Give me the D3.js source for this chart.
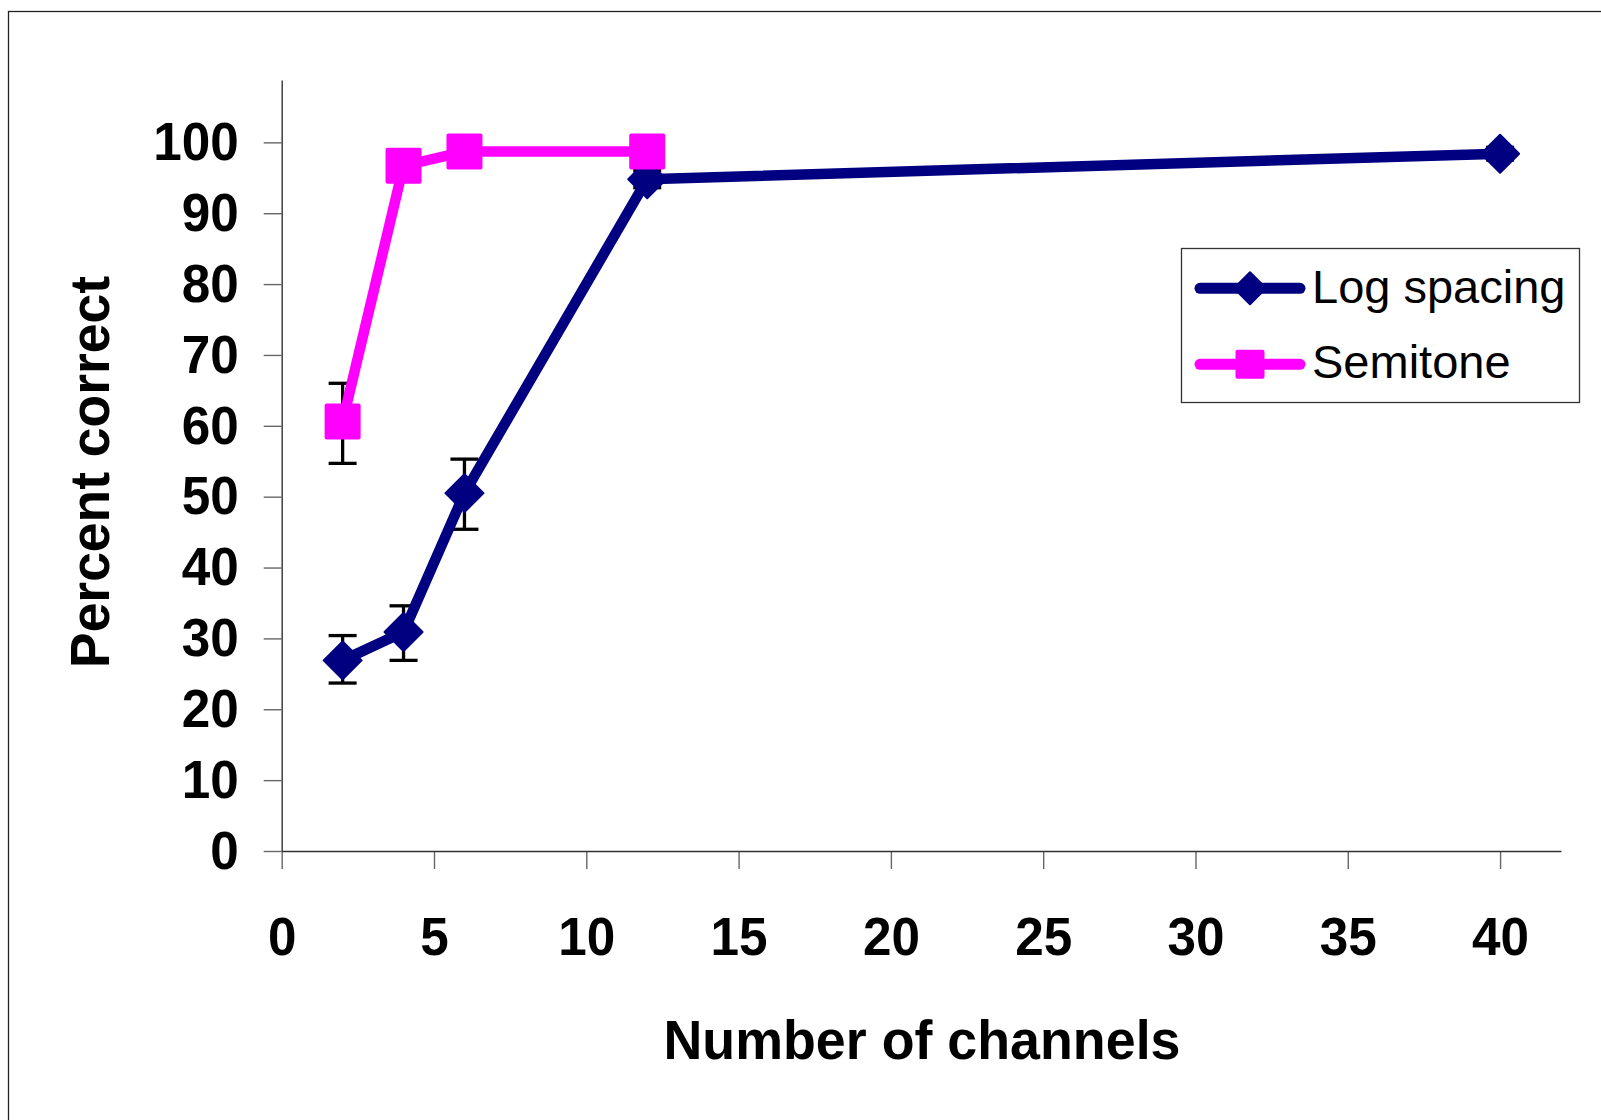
<!DOCTYPE html>
<html><head><meta charset="utf-8">
<script src="https://cdn.jsdelivr.net/npm/d3@7"></script>
<style>html,body{margin:0;padding:0;background:#fff;}svg{display:block;}</style>
</head><body>
<script>
// ---- data ----
const logChannels = [2, 4, 6, 12, 40];
const logValues   = [26.9, 30.9, 50.5, 94.8, 98.4];
const logErrHigh  = [30.4, 34.6, 55.3, 96.0, 99.3];
const logErrLow   = [23.7, 26.9, 45.4, 93.6, 97.5];

const semiChannels = [2, 4, 6, 12];
const semiValues   = [60.6, 96.7, 98.7, 98.7];
const semiErrHigh  = [66.0, 97.9, 99.7, 99.7];
const semiErrLow   = [54.7, 95.5, 97.7, 97.7];

const xTicks = [0, 5, 10, 15, 20, 25, 30, 35, 40];
const yTicks = [0, 10, 20, 30, 40, 50, 60, 70, 80, 90, 100];
const seriesNames = ["Log spacing", "Semitone"];
const xTitle = "Number of channels";
const yTitle = "Percent correct";

// ---- layout ----
const W = 1601, H = 1120;
const NAVY = "#000080", MAG = "#FF00FF";
const svg = d3.select("body").append("svg").attr("width", W).attr("height", H);
svg.append("rect").attr("width", W).attr("height", H).attr("fill", "#fff");
// outer frame
svg.append("rect").attr("x", 8.5).attr("y", 11.5).attr("width", 1700).attr("height", 1300)
  .attr("fill", "none").attr("stroke", "#222").attr("stroke-width", 1.3);

const x = d3.scaleLinear().domain([0, 42]).range([281.7, 1561]);
const y = d3.scaleLinear().domain([0, 108.8]).range([851, 80]);

const font = "'Liberation Sans', Arial, sans-serif";

// axes
const xAxis = svg.append("g").attr("transform", `translate(0,${y(0)})`)
  .call(d3.axisBottom(x).tickValues(xTicks).tickSizeInner(18).tickSizeOuter(0).tickPadding(48).tickFormat(d3.format("d")));
const yAxis = svg.append("g").attr("transform", `translate(${x(0)},0)`)
  .call(d3.axisLeft(y).tickValues(yTicks).tickSizeInner(18).tickSizeOuter(0).tickPadding(25).tickFormat(d3.format("d")));
[xAxis, yAxis].forEach(g => {
  g.select(".domain").attr("stroke", "#333").attr("stroke-width", 1.4);
  g.selectAll(".tick line").attr("stroke", "#666").attr("stroke-width", 1.4);
  g.selectAll(".tick text").attr("fill", "#000").attr("font-family", font)
    .attr("font-weight", "bold").attr("font-size", 54)
    .attr("textLength", d => String(d).length * 28.5).attr("lengthAdjust", "spacingAndGlyphs");
});
xAxis.select(".domain").raise();

// titles
svg.append("text").attr("x", 922).attr("y", 1059).attr("text-anchor", "middle")
  .attr("font-family", font).attr("font-weight", "bold").attr("font-size", 56)
  .attr("textLength", 517).attr("lengthAdjust", "spacingAndGlyphs").text(xTitle);
svg.append("text").attr("transform", "translate(108.5,472) rotate(-90)").attr("text-anchor", "middle")
  .attr("font-family", font).attr("font-weight", "bold").attr("font-size", 56)
  .attr("textLength", 392).attr("lengthAdjust", "spacingAndGlyphs").text(yTitle);

// series
const logData = logChannels.map((c, i) => ({c, v: logValues[i], hi: logErrHigh[i], lo: logErrLow[i]}));
const semiData = semiChannels.map((c, i) => ({c, v: semiValues[i], hi: semiErrHigh[i], lo: semiErrLow[i]}));

function errorBars(data) {
  const g = svg.append("g").attr("stroke", "#000").attr("stroke-width", 3.3).attr("fill", "none");
  data.forEach(d => {
    g.append("line").attr("x1", x(d.c)).attr("x2", x(d.c)).attr("y1", y(d.hi)).attr("y2", y(d.lo));
    g.append("line").attr("x1", x(d.c) - 14).attr("x2", x(d.c) + 14).attr("y1", y(d.hi)).attr("y2", y(d.hi));
    g.append("line").attr("x1", x(d.c) - 14).attr("x2", x(d.c) + 14).attr("y1", y(d.lo)).attr("y2", y(d.lo));
  });
}
const line = d3.line().x(d => x(d.c)).y(d => y(d.v));
function diamond(g, cx, cy, r, color) {
  g.append("path").attr("d", `M${cx},${cy - r}L${cx + r},${cy}L${cx},${cy + r}L${cx - r},${cy}Z`)
    .attr("fill", color).attr("stroke", color).attr("stroke-width", 2).attr("stroke-linejoin", "round");
}
function square(g, cx, cy, s, color) {
  g.append("rect").attr("x", cx - s / 2).attr("y", cy - s / 2).attr("width", s).attr("height", s)
    .attr("rx", 2).attr("fill", color);
}

errorBars(logData);
errorBars(semiData);

svg.append("path").datum(logData).attr("d", line).attr("fill", "none")
  .attr("stroke", NAVY).attr("stroke-width", 10.5).attr("stroke-linejoin", "round");
const gLog = svg.append("g");
logData.forEach(d => diamond(gLog, x(d.c), y(d.v), 19, NAVY));

svg.append("path").datum(semiData).attr("d", line).attr("fill", "none")
  .attr("stroke", MAG).attr("stroke-width", 10.5).attr("stroke-linejoin", "round");
const gSemi = svg.append("g");
semiData.forEach(d => square(gSemi, x(d.c), y(d.v), 36, MAG));

// legend
const lg = svg.append("g");
lg.append("rect").attr("x", 1181.5).attr("y", 248.5).attr("width", 398).attr("height", 154)
  .attr("fill", "#fff").attr("stroke", "#333").attr("stroke-width", 1.3);
const legendRows = [
  {name: seriesNames[0], color: NAVY, y: 288.3, base: 303.3, marker: "diamond"},
  {name: seriesNames[1], color: MAG, y: 364.3, base: 378.3, marker: "square"}
];
legendRows.forEach(r => {
  lg.append("line").attr("x1", 1200).attr("x2", 1300).attr("y1", r.y).attr("y2", r.y)
    .attr("stroke", r.color).attr("stroke-width", 11).attr("stroke-linecap", "round");
  if (r.marker === "diamond") diamond(lg, 1250, r.y, 16, r.color);
  else square(lg, 1250, r.y, 29, r.color);
  lg.append("text").attr("x", 1312).attr("y", r.base).attr("font-family", font)
    .attr("font-size", 47).attr("fill", "#000").text(r.name);
});
</script>
</body></html>
